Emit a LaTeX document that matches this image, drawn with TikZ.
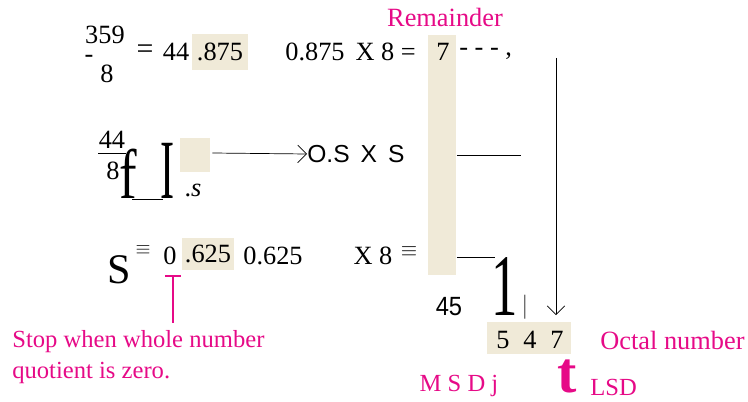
\documentclass[tikz,border=0pt]{standalone}
\usepackage{fontspec}
\setmainfont{Liberation Serif}
\newfontfamily\sansfont{Liberation Sans}
\usetikzlibrary{arrows.meta,positioning}
\definecolor{notepink}{RGB}{230,10,135}
\definecolor{shadecream}{RGB}{240,234,216}

\tikzset{
  txt/.style={inner sep=0pt, font=\fontsize{15}{18}\selectfont},
  sanstxt/.style={inner sep=0pt, font=\sansfont\fontsize{14}{17}\selectfont},
  note/.style={inner sep=0pt, text=notepink, font=\fontsize{14}{17.6}\selectfont},
  shadebox/.style={fill=shadecream, inner sep=0pt},
  bigglyph/.style={inner sep=0pt}
}

\begin{document}
\begin{tikzpicture}[x=0.02cm, y=-0.02cm]
\useasboundingbox (0,0) rectangle (748,402);

% shaded cells
\node[shadebox, minimum width=0.58cm, minimum height=4.8cm] (remcol) at (442,155) {};
\node[shadebox, txt, minimum width=1.12cm, minimum height=0.74cm] (frac1) at (220,52) {.875};
\node[shadebox, minimum width=0.6cm, minimum height=0.7cm] (frac2) at (195,155) {};
\node[shadebox, txt, minimum width=1.06cm, minimum height=0.64cm] (frac3) at (208,254) {.625};
\node[shadebox, minimum width=1.7cm, minimum height=0.66cm] (octbox) at (529,338) {};

% first division
\node[txt] (n359) at (105,35) {359};
\node[txt] (bar1) at (89,59) {-};
\node[txt] (d1) at (107,74) {8};
\node[txt, font=\fontsize{17}{18}\selectfont] (eq1) at (145,52) {=};
\node[txt] (q1) at (176,52) {44};
\node[txt, anchor=west] (mul1) at (285,52) {0.875\, X 8 =};
\node[txt] (r1) at (443,52) {7};
\node[txt, anchor=west] (dash1) at (459,54) {- - - ,};
\node[note, font=\fontsize{15}{18}\selectfont] (remlbl) at (445,17) {Remainder};

% second division
\node[txt] (n44) at (112,140) {44};
\draw (98,153) -- (126,153);
\node[txt] (d2) at (113,171) {8};
\node[bigglyph, font=\fontsize{40}{40}\selectfont] (fglyph) at (128,174) {\scalebox{0.75}[1]{f}};
\draw (132,199) -- (163,199);
\node[bigglyph, font=\fontsize{48}{48}\selectfont] (iglyph) at (168,171) {\scalebox{0.5}[1]{I}};
\node[txt] (s2) at (193,190) {.\textit{s}};
\node[sanstxt, anchor=west] (mul2) at (307,154) {O.S\, X\, S};
\draw[-{Straight Barb[length=5pt]}] (frac2.east) ++(2,-2) -- (mul2.west);

% third division
\node[bigglyph, font=\fontsize{24}{24}\selectfont] (s3) at (119,270) {S};
\node[inner sep=0pt, font=\fontsize{11}{11}\selectfont] (eq3) at (143,250) {$\equiv$};
\node[txt] (q3) at (170,256) {0};
\node[txt] (mul3) at (273,256) {0.625};
\node[txt] (x8) at (373,256) {X 8};
\node[inner sep=0pt, font=\fontsize{13}{13}\selectfont] (eq4) at (409,252) {$\equiv$};
\node[sanstxt, font=\sansfont\fontsize{15}{17}\selectfont] (n45) at (449,307) {\scalebox{0.9}[1]{45}};
\node[bigglyph, font=\fontsize{50}{50}\selectfont] (oneglyph) at (505,287) {\scalebox{0.6}[1]{1}};
\node[txt] (tick) at (525,307) {\scalebox{0.6}[1]{|}};

% remainders leaving the column
\coordinate (r2end) at (521,155);
\coordinate (r3end) at (495,257);
\draw (r2end -| remcol.east) -- (r2end);
\draw (r3end -| remcol.east) -- (r3end);

% octal result
\node[txt] (o5) at (503,340) {5};
\node[txt] (o4) at (530,340) {4};
\node[txt] (o7) at (557,340) {7};
\coordinate (arrtop) at (556,58);
\draw[-{Straight Barb[length=5pt]}, shorten >=0.12cm] (arrtop) -- (arrtop |- octbox.north);
\node[note, font=\fontsize{15}{18}\selectfont, anchor=west] (octlbl) at (600,340) {Octal number};

% notes
\node[note, align=left, anchor=north west] (stopnote) at (12,330) {Stop when whole number\\quotient is zero.};
\coordinate (stoptop) at (173,275);
\draw[notepink, line width=1.2pt, {Bar[width=9pt]}-, shorten >=0.14cm] (stoptop) -- (stoptop |- stopnote.north);
\node[note] (msdlbl) at (459,386) {M S D j};
\node[note, font=\fontsize{33}{33}\selectfont\bfseries] (lsdarrow) at (567,376) {t};
\node[note, anchor=west] (lsdlbl) at (590,387) {LSD};
\end{tikzpicture}
\end{document}
